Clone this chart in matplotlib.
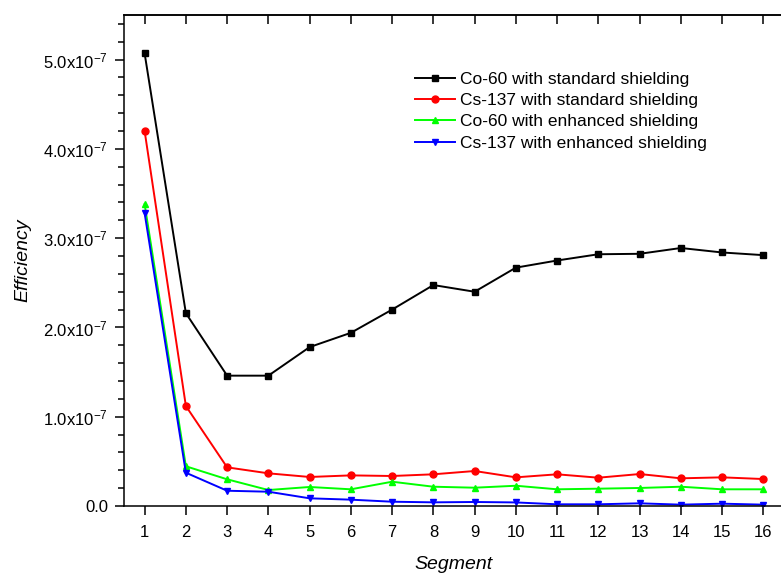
import matplotlib
matplotlib.use('Agg')
from matplotlib import pyplot as plt
from matplotlib import ticker
import numpy as np

matplotlib.rcParams['font.family'] = ['Liberation Sans', 'DejaVu Sans']
matplotlib.rcParams['mathtext.default'] = 'regular'

segments = list(range(1, 17))
co60_std = [5.07, 2.16, 1.46, 1.46, 1.78, 1.94, 2.20, 2.475, 2.40, 2.67, 2.75, 2.82, 2.825, 2.89, 2.84, 2.81]
cs137_std = [4.20, 1.12, 0.433, 0.366, 0.325, 0.343, 0.336, 0.355, 0.392, 0.321, 0.355, 0.317, 0.358, 0.310, 0.321, 0.302]
co60_enh = [3.38, 0.445, 0.299, 0.179, 0.213, 0.187, 0.272, 0.216, 0.205, 0.227, 0.187, 0.194, 0.202, 0.216, 0.187, 0.187]
cs137_enh = [3.28, 0.373, 0.171, 0.160, 0.086, 0.071, 0.048, 0.041, 0.045, 0.040, 0.019, 0.019, 0.030, 0.015, 0.026, 0.015]

labels = ['Co-60 with standard shielding', 'Cs-137 with standard shielding',
          'Co-60 with enhanced shielding', 'Cs-137 with enhanced shielding']
colors = ['#000000', '#ff0000', '#00ff00', '#0000ff']
markers = ['s', 'o', '^', 'v']
series = [co60_std, cs137_std, co60_enh, cs137_enh]

fig = plt.figure(figsize=(7.81, 5.74), dpi=100)
ax = fig.add_axes([124/781., 68/574., 660/781., 491/574.])

for vals, lab, c, m in zip(series, labels, colors, markers):
    ax.plot(segments, np.array(vals) * 1e-7, color=c, marker=m, markersize=5,
            linewidth=1.4, label=lab)

ax.set_xlim(0.5, 16.5)
ax.set_ylim(0, 5.5e-7)
ax.set_xticks(segments)
ax.yaxis.set_major_locator(ticker.MultipleLocator(1e-7))
ax.yaxis.set_minor_locator(ticker.MultipleLocator(0.2e-7))

def yfmt(v, pos):
    n = v / 1e-7
    if abs(n) < 1e-9:
        return '0.0'
    return '%.1fx10$^{-7}$' % n

ax.yaxis.set_major_formatter(ticker.FuncFormatter(yfmt))

for s in ax.spines.values():
    s.set_linewidth(1.1)

ax.tick_params(axis='both', which='major', labelsize=12, width=1.1, length=6.5, direction='out')
ax.tick_params(axis='y', which='minor', width=1.1, length=4, direction='out')
ax.tick_params(axis='y', which='major', pad=5)
ax.tick_params(axis='x', which='major', pad=7)

# ticks on top pointing inward
top = ax.secondary_xaxis('top')
top.set_xticks(segments)
top.tick_params(direction='in', length=6.5, width=1.1, labeltop=False)
top.spines['top'].set_linewidth(1.1)

ax.set_xlabel('Segment', fontsize=14, style='italic', labelpad=12)
ax.set_ylabel('Efficiency', fontsize=14, style='italic', labelpad=8.3)

ax.legend(loc='upper left', bbox_to_anchor=(415/781., 1 - 71.5/574.), bbox_transform=fig.transFigure,
          frameon=False, fontsize=12.5, numpoints=1, handlelength=2.3, handletextpad=0.3,
          labelspacing=0.36, borderpad=0, borderaxespad=0)

plt.savefig('out.png', dpi=100)
